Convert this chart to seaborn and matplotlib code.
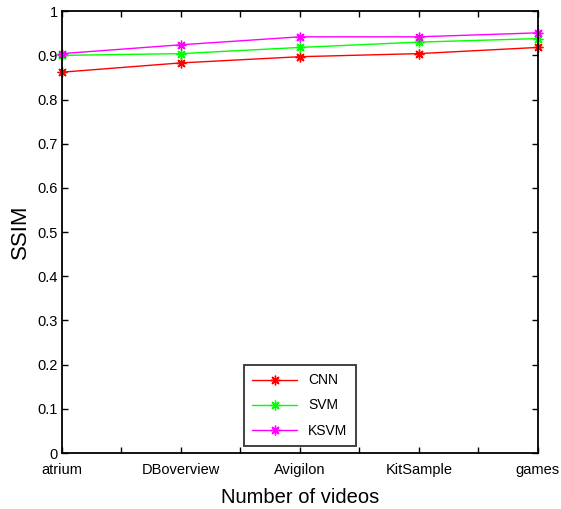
import matplotlib
matplotlib.use("Agg")
import matplotlib.pyplot as plt
import pandas as pd
import seaborn as sns

# data
videos = ["atrium", "DBoverview", "Avigilon", "KitSample", "games"]
cnn = [0.862, 0.883, 0.897, 0.904, 0.918]
svm = [0.900, 0.904, 0.918, 0.930, 0.938]
ksvm = [0.904, 0.924, 0.942, 0.942, 0.951]
methods = ["CNN", "SVM", "KSVM"]
colors = ["#ff0000", "#00ff00", "#ff00ff"]

df = pd.DataFrame({
    "video": videos * 3,
    "pos": list(range(len(videos))) * 3,
    "ssim": cnn + svm + ksvm,
    "method": [m for m in methods for _ in videos],
})

sns.set_style("ticks")
plt.rcParams["font.family"] = ["Liberation Sans", "DejaVu Sans"]
plt.rcParams["text.color"] = "black"
plt.rcParams["axes.labelcolor"] = "black"
plt.rcParams["xtick.color"] = "black"
plt.rcParams["ytick.color"] = "black"

fig = plt.figure(figsize=(5.61, 5.09), dpi=100)
ax = fig.add_axes([0.1105, 0.110, 0.848, 0.868])

sns.lineplot(data=df, x="pos", y="ssim", hue="method", hue_order=methods,
             palette=colors, marker=(8, 2, 0), markersize=7, markeredgewidth=1.0,
             linewidth=1.0, ax=ax, legend=True)
# asterisk markers need the edge in the line colour (seaborn sets white)
for ln in ax.lines:
    ln.set_markeredgecolor(ln.get_color())
    ln.set_clip_on(False)

ax.set_xlim(0, len(videos) - 1)
ax.set_ylim(0, 1)
ax.set_xticks(range(len(videos)))
ax.set_xticklabels(videos, fontsize=10.5)
ax.set_xticks([i + 0.5 for i in range(len(videos) - 1)], minor=True)
ax.set_yticks([i / 10 for i in range(11)])
ax.set_yticklabels(["%g" % (i / 10) for i in range(11)], fontsize=10.5)
ax.tick_params(which="both", direction="in", top=True, right=True,
               length=4, width=1, color="black", pad=3)
ax.tick_params(axis="x", pad=7)
for s in ax.spines.values():
    s.set_visible(True)
    s.set_linewidth(1.3)
    s.set_color("black")

ax.set_xlabel("Number of videos", fontsize=14.5, labelpad=8)
ax.set_ylabel("SSIM", fontsize=16, labelpad=5)

leg = ax.legend(loc="lower center", bbox_to_anchor=(0.5, 0.016), borderaxespad=0,
                fontsize=10, frameon=True, fancybox=False, handlelength=3.2,
                borderpad=0.6, labelspacing=0.8, edgecolor="black")
leg.get_frame().set_linewidth(1.3)
for h in leg.legend_handles:
    h.set_markeredgecolor(h.get_color())

fig.savefig("out.png", dpi=100)
